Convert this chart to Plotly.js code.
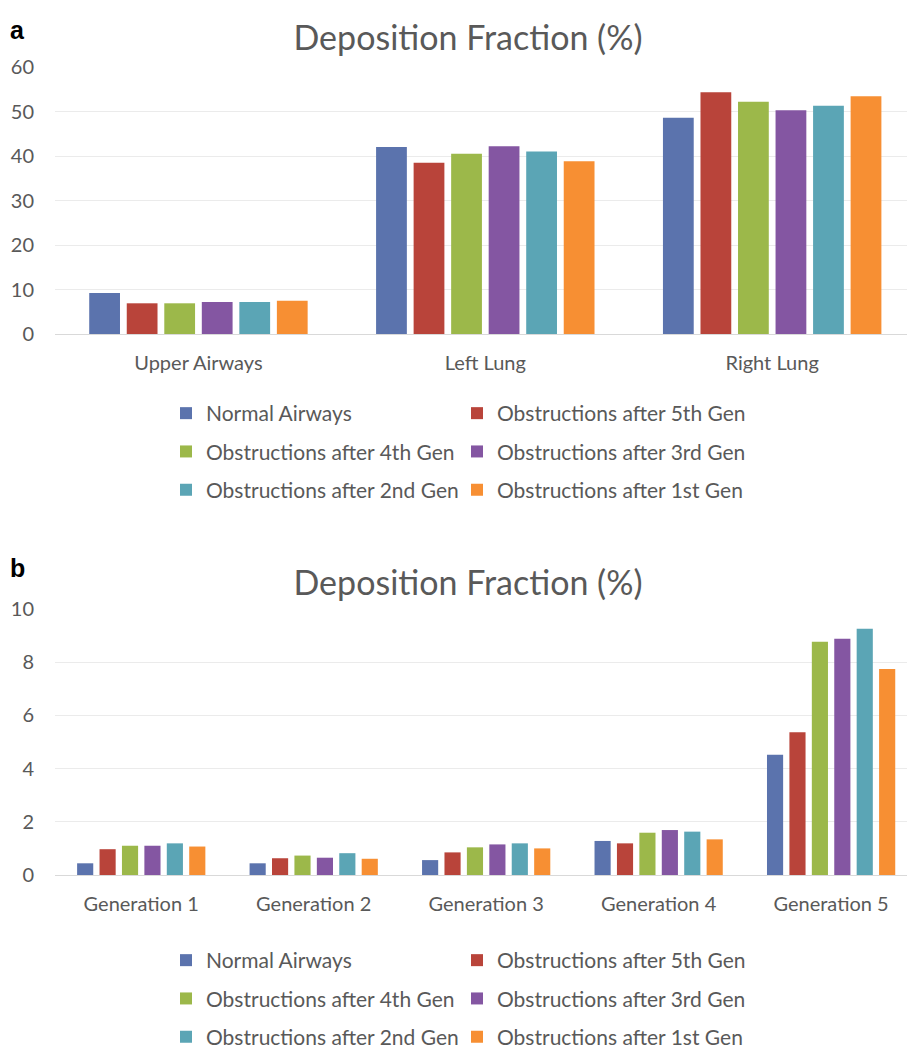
<!DOCTYPE html>
<html>
<head>
<meta charset="utf-8">
<script src="https://cdn.plot.ly/plotly-3.0.1.min.js"></script>
<style>
  html, body { margin: 0; padding: 0; background: #ffffff; }
  #chartA { width: 907px; height: 545px; }
  #chartB { width: 907px; height: 512px; }
</style>
</head>
<body>
<div id="chartA"></div>
<div id="chartB"></div>
<script>
// ---- Data ----
const seriesNames = [
  "Normal Airways",
  "Obstructions after 5th Gen",
  "Obstructions after 4th Gen",
  "Obstructions after 3rd Gen",
  "Obstructions after 2nd Gen",
  "Obstructions after 1st Gen"
];
const seriesColors = ["#5b73ad", "#b9443a", "#9cb84a", "#8456a2", "#5ba5b5", "#f78f33"];

// Panel a
const regionCategories = ["Upper Airways", "Left Lung", "Right Lung"];
const normalAirwaysA = [9.2, 42.0, 48.6];
const obst5thA       = [6.9, 38.5, 54.3];
const obst4thA       = [6.9, 40.5, 52.2];
const obst3rdA       = [7.2, 42.2, 50.3];
const obst2ndA       = [7.2, 41.0, 51.3];
const obst1stA       = [7.5, 38.8, 53.4];

// Panel b
const generationCategories = ["Generation 1", "Generation 2", "Generation 3", "Generation 4", "Generation 5"];
const normalAirwaysB = [0.44, 0.44, 0.56, 1.28, 4.52];
const obst5thB       = [0.97, 0.63, 0.85, 1.19, 5.37];
const obst4thB       = [1.10, 0.73, 1.04, 1.59, 8.77];
const obst3rdB       = [1.10, 0.65, 1.15, 1.69, 8.88];
const obst2ndB       = [1.19, 0.82, 1.19, 1.63, 9.26];
const obst1stB       = [1.07, 0.61, 1.00, 1.34, 7.74];

const titleText = "Deposition Fraction (%)";

// ---- Styling ----
const FONT = "Lato, 'Open Sans', sans-serif";
const GREY = "#595959";
const GRID = "#ebebeb";
const ZERO = "#d9d9d9";
const PLOT_LEFT = 55, PLOT_W = 852;

function makeTraces(cats, valueArrays) {
  return valueArrays.map((vals, i) => ({
    type: "bar",
    name: seriesNames[i],
    x: cats,
    y: vals,
    marker: { color: seriesColors[i], line: { width: 0 } },
    legend: (i % 2 === 0) ? "legend" : "legend2",
    legendgroup: "g" + i,
    hoverinfo: "x+y+name"
  }));
}

function legendCfg(xPx, yPaper) {
  return {
    x: (xPx - PLOT_LEFT) / PLOT_W, xref: "paper", xanchor: "left",
    y: yPaper, yref: "paper", yanchor: "top",
    orientation: "v",
    font: { family: FONT, size: 21, color: GREY },
    bgcolor: "rgba(0,0,0,0)",
    borderwidth: 0,
    tracegroupgap: 8,
    itemwidth: 30,
    traceorder: "grouped"
  };
}

function makeLayout(opts) {
  const plotH = opts.height - opts.top - opts.bottom;
  const plotBottom = opts.height - opts.bottom;
  return {
    width: 907,
    height: opts.height,
    margin: { l: PLOT_LEFT, r: 0, t: opts.top, b: opts.bottom, pad: 0 },
    paper_bgcolor: "#ffffff",
    plot_bgcolor: "#ffffff",
    barmode: "group",
    bargap: opts.bargap,
    bargroupgap: opts.bargroupgap,
    title: {
      text: titleText,
      font: { family: FONT, size: 34, color: GREY },
      x: 468 / 907, xref: "container", xanchor: "center",
      y: opts.titleY, yref: "container", yanchor: "middle"
    },
    xaxis: {
      type: "category",
      range: opts.xrange,
      showgrid: false,
      showline: false,
      zeroline: false,
      ticks: "",
      tickangle: 0,
      automargin: false,
      tickfont: { family: FONT, size: 20, color: GREY },
      ticklabelstandoff: 15,
      fixedrange: true
    },
    yaxis: {
      range: opts.yrange,
      dtick: opts.dtick,
      tick0: 0,
      showgrid: true,
      gridcolor: GRID,
      gridwidth: 1,
      zeroline: true,
      zerolinecolor: ZERO,
      zerolinewidth: 1,
      showline: false,
      ticks: "",
      automargin: false,
      tickfont: { family: FONT, size: 20, color: GREY },
      ticklabelstandoff: 20,
      fixedrange: true
    },
    showlegend: true,
    legend: legendCfg(166, (plotBottom - opts.legendTopPx) / plotH),
    legend2: legendCfg(457, (plotBottom - opts.legendTopPx) / plotH),
    annotations: [{
      text: "<b>" + opts.letter + "</b>",
      xref: "paper", yref: "paper",
      x: (8 - PLOT_LEFT) / PLOT_W, y: (plotBottom - opts.letterPx) / plotH,
      xanchor: "left", yanchor: "middle",
      showarrow: false,
      font: { family: "Liberation Sans, Arial, sans-serif", size: 25, color: "#000000" }
    }]
  };
}

const config = { displayModeBar: false };

Plotly.newPlot("chartA",
  makeTraces(regionCategories, [normalAirwaysA, obst5thA, obst4thA, obst3rdA, obst2ndA, obst1stA]),
  makeLayout({
    height: 545, top: 67, bottom: 211,
    bargap: 0.215, bargroupgap: 0.18,
    xrange: [-0.5, 2.47], yrange: [0, 60], dtick: 10,
    titleY: 1 - 38 / 545,
    legendTopPx: 393,
    letter: "a", letterPx: 30
  }), config);

Plotly.newPlot("chartB",
  makeTraces(generationCategories, [normalAirwaysB, obst5thB, obst4thB, obst3rdB, obst2ndB, obst1stB]),
  makeLayout({
    height: 512, top: 64, bottom: 182,
    bargap: 0.22, bargroupgap: 0.28,
    xrange: [-0.5, 4.44], yrange: [0, 10], dtick: 2,
    titleY: 1 - 38 / 512,
    legendTopPx: 395,
    letter: "b", letterPx: 23
  }), config);
</script>
</body>
</html>
